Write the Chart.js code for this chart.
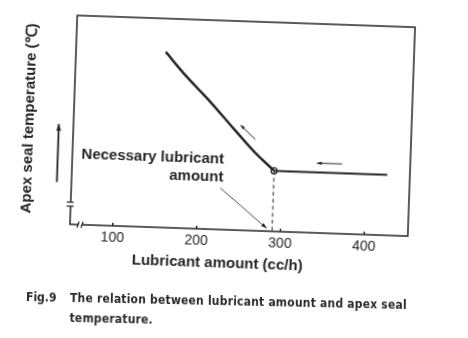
<!DOCTYPE html>
<html>
<head>
<meta charset="utf-8">
<script src="https://cdn.jsdelivr.net/npm/chart.js@4.4.1/dist/chart.umd.min.js"></script>
<style>
  html, body { margin: 0; padding: 0; background: #fff; overflow: hidden; }
  #wrap { position: absolute; left: 0; top: 0; width: 468px; height: 338px;
          transform: rotate(2deg); transform-origin: 234px 169px; }
  #caption { position: absolute; left: 26px; top: 287px; color: #2b2b2b;
             font: bold 12px "Liberation Sans Narrow", "DejaVu Sans Condensed", sans-serif;
             letter-spacing: 0.2px; line-height: 20px; white-space: nowrap;
             transform: rotate(1.2deg); transform-origin: 0 10px; }
  #caption .fig { display: inline-block; width: 44px; letter-spacing: 0; }
  #caption .l2 { padding-left: 44px; }
</style>
</head>
<body>
<div id="wrap"><canvas id="myChart" width="468" height="338"></canvas></div>
<div id="caption">
  <div><span class="fig">Fig.9</span>The relation between lubricant amount and apex seal</div>
  <div class="l2">temperature.</div>
</div>
<script>
// values (y has no scale, 0-100 relative)
const curveX = [156, 182, 211, 240, 265, 290];
const curveY = [84, 72.5, 61, 48.5, 38, 29];
const flatX = [290, 425];
const flatY = [29, 29];
const necessaryAmount = 290;
const xTicks = [100, 200, 300, 400];

const ink = '#262626';
const font = '"Liberation Sans", Arial, sans-serif';

function pts(xs, ys) {
  return xs.map((v, i) => ({x: v, y: ys[i]}));
}

function arrow(ctx, x1, y1, x2, y2, head, width) {
  ctx.lineWidth = width;
  ctx.beginPath(); ctx.moveTo(x1, y1); ctx.lineTo(x2, y2); ctx.stroke();
  const ang = Math.atan2(y2 - y1, x2 - x1);
  ctx.beginPath();
  ctx.moveTo(x2, y2);
  ctx.lineTo(x2 - head * Math.cos(ang - 0.35), y2 - head * Math.sin(ang - 0.35));
  ctx.lineTo(x2 - head * Math.cos(ang + 0.35), y2 - head * Math.sin(ang + 0.35));
  ctx.closePath(); ctx.fill();
}

// frame, axis breaks, arrows and notes
const decor = {
  id: 'decor',
  afterDatasetsDraw(chart) {
    const {ctx, chartArea: a, scales: {x, y}} = chart;
    ctx.save();
    ctx.strokeStyle = ink; ctx.fillStyle = ink;
    ctx.lineWidth = 1.5;
    ctx.strokeRect(a.left, a.top, a.right - a.left, a.bottom - a.top);

    // small inner ticks
    xTicks.forEach(v => {
      const px = x.getPixelForValue(v);
      ctx.beginPath(); ctx.moveTo(px, a.bottom); ctx.lineTo(px, a.bottom - 3); ctx.stroke();
    });

    // axis breaks
    const yb = y.getPixelForValue(9.6);
    const xb = x.getPixelForValue(61);
    ctx.fillStyle = '#fff';
    ctx.fillRect(a.left - 2, yb - 2, 4, 4);
    ctx.fillRect(xb - 2, a.bottom - 2, 4, 4);
    ctx.lineWidth = 1.3;
    ctx.beginPath();
    ctx.moveTo(a.left - 4, yb - 2); ctx.lineTo(a.left + 3, yb - 2);
    ctx.moveTo(a.left - 4, yb + 2); ctx.lineTo(a.left + 3, yb + 2);
    ctx.moveTo(xb - 3, a.bottom + 3); ctx.lineTo(xb - 1, a.bottom - 3);
    ctx.moveTo(xb + 1, a.bottom + 3); ctx.lineTo(xb + 3, a.bottom - 3);
    ctx.stroke();

    ctx.fillStyle = ink;
    // arrows
    arrow(ctx, x.getPixelForValue(226.6), y.getPixelForValue(19.9),
               x.getPixelForValue(283.5), y.getPixelForValue(1.4), 6, 0.8);
    arrow(ctx, x.getPixelForValue(266.4), y.getPixelForValue(43.7),
               x.getPixelForValue(248), y.getPixelForValue(50.3), 5, 1);
    arrow(ctx, x.getPixelForValue(370.7), y.getPixelForValue(33.4),
               x.getPixelForValue(340.7), y.getPixelForValue(33.4), 5, 1);
    arrow(ctx, x.getPixelForValue(31.6), y.getPixelForValue(20),
               x.getPixelForValue(31.6), y.getPixelForValue(47.8), 7, 1.8);

    // notes
    ctx.font = 'bold 15px ' + font;
    ctx.textAlign = 'right'; ctx.textBaseline = 'middle';
    ctx.fillText('Necessary lubricant', x.getPixelForValue(229.8), y.getPixelForValue(33.5));
    ctx.fillText('amount', x.getPixelForValue(229.8), y.getPixelForValue(25.1));

    // x axis title
    ctx.textAlign = 'center';
    ctx.fillText('Lubricant amount (cc/h)', x.getPixelForValue(226), a.bottom + 33.5);
    ctx.restore();
  }
};

const ctx = document.getElementById('myChart').getContext('2d');
const myChart = new Chart(ctx, {
  type: 'scatter',
  data: {
    datasets: [{
      data: pts(curveX, curveY),
      showLine: true,
      borderColor: ink,
      borderWidth: 2.5,
      cubicInterpolationMode: 'monotone',
      pointRadius: 0
    }, {
      data: pts(flatX, flatY),
      showLine: true,
      borderColor: ink,
      borderWidth: 2,
      pointRadius: 0
    }, {
      data: [{x: necessaryAmount, y: flatY[0]}, {x: necessaryAmount, y: 0}],
      showLine: true,
      borderColor: ink,
      borderWidth: 1,
      borderDash: [4, 3],
      pointRadius: 0
    }, {
      data: [{x: necessaryAmount, y: flatY[0]}],
      pointRadius: 3,
      pointBackgroundColor: '#fff',
      pointBorderColor: ink,
      pointBorderWidth: 1.2
    }]
  },
  options: {
    responsive: false,
    animation: false,
    events: [],
    layout: { padding: { left: 0, top: 21, right: 58, bottom: 0 } },
    plugins: { legend: { display: false }, tooltip: { enabled: false } },
    scales: {
      x: {
        type: 'linear',
        min: 49, max: 452,
        grid: { display: false, drawTicks: false },
        border: { display: false },
        afterBuildTicks: s => { s.ticks = xTicks.map(v => ({value: v})); },
        afterFit: s => { s.height = 108; },
        ticks: { color: ink, padding: 4, font: { family: font, size: 14 } }
      },
      y: {
        min: 0, max: 100,
        grid: { display: false, drawTicks: false },
        border: { display: false },
        ticks: { display: false },
        afterFit: s => { s.width = 72; },
        title: {
          display: true,
          text: 'Apex seal temperature (℃)',
          color: ink,
          padding: { top: 19, bottom: 0 },
          font: { family: font, size: 15, weight: 'bold' }
        }
      }
    }
  },
  plugins: [decor]
});
</script>
</body>
</html>
